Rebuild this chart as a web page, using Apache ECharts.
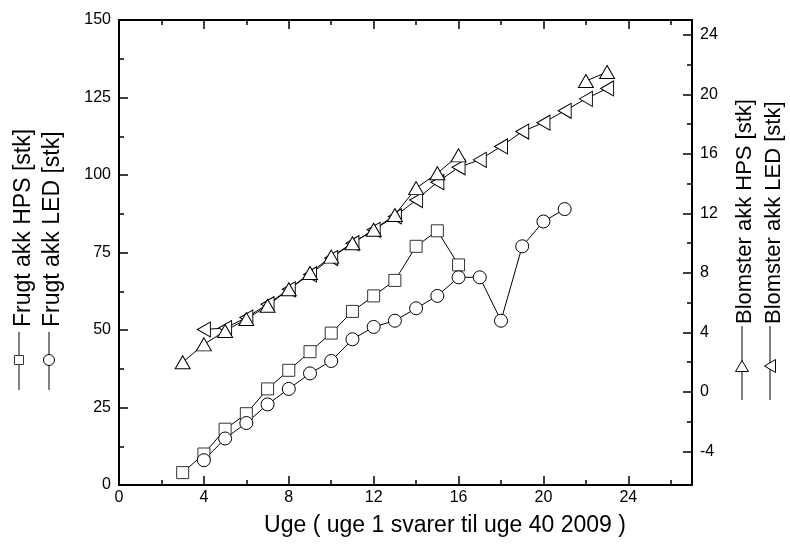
<!DOCTYPE html>
<html>
<head>
<meta charset="utf-8">
<script src="https://cdn.jsdelivr.net/npm/echarts@6/dist/echarts.min.js"></script>
<style>html,body{margin:0;padding:0;background:#fff}#c{width:790px;height:554px}</style>
</head>
<body>
<div id="c"></div>
<script>
// ---- data ----
const weeksFrugtHPS = [3,4,5,6,7,8,9,10,11,12,13,14,15,16];
const frugtHPS      = [4,10,18,23,31,37,43,49,56,61,66,77,82,71];
const weeksFrugtLED = [4,5,6,7,8,9,10,11,12,13,14,15,16,17,18,19,20,21];
const frugtLED      = [8,15,20,26,31,36,40,47,51,53,57,61,67,67,53,77,85,89];
const weeksBlomHPS  = [3,4,5,6,7,8,9,10,11,12,13,14,15,16,17,18,19,20,21,22,23];
const blomHPS       = [2.0,3.2,4.1,4.9,5.8,6.9,8.0,9.1,10.0,10.9,11.9,13.7,14.7,15.9,null,null,null,null,null,20.9,21.5];
const weeksBlomLED  = [4,5,6,7,8,9,10,11,12,13,14,15,16,17,18,19,20,21,22,23];
const blomLED       = [4.2,4.3,5.0,5.9,6.9,7.9,9.0,10.0,10.9,11.8,12.9,14.1,15.1,15.6,16.5,17.5,18.1,18.9,19.7,20.4];

const xMajor = [0,4,8,12,16,20,24];
const xMinor = [2,6,10,14,18,22,26];
const rMajor = [-4,0,4,8,12,16,20,24];
const rMinor = [-2,2,6,10,14,18,22];

const labelFrugtHPS = 'Frugt akk HPS [stk]';
const labelFrugtLED = 'Frugt akk LED [stk]';
const labelBlomHPS = 'Blomster akk HPS [stk]';
const labelBlomLED = 'Blomster akk LED [stk]';
const xTitle = 'Uge ( uge 1 svarer til uge 40 2009 )';

function pairs(xs, ys){ return xs.map((x,i)=>[x, ys[i]===null ? '-' : ys[i]]); }

const FONT = 'Liberation Sans, Arial, sans-serif';
const chart = echarts.init(document.getElementById('c'), null, {renderer:'canvas'});

const lineAx = {show:true, onZero:false, lineStyle:{color:'#000', width:2}};
const noLine = {show:false, onZero:false};
function xAx(pos, vals, len, labels, line){
  return {type:'value', min:0, max:27, position:pos, gridIndex:0,
    axisLine: line ? lineAx : noLine,
    axisTick:{show:true, inside:true, length:len, customValues:vals, lineStyle:{color:'#000', width:1.5}},
    axisLabel: labels ? {show:true, customValues:vals, color:'#000', fontSize:16, fontFamily:FONT, margin:5} : {show:false},
    splitLine:{show:false}};
}
function rAx(vals, len, labels, line){
  return {type:'value', min:-6.25, max:25, position:'right',
    axisLine: line ? lineAx : noLine,
    axisTick:{show:true, inside:true, length:len, customValues:vals, lineStyle:{color:'#000', width:1.5}},
    axisLabel: labels ? {show:true, customValues:vals, color:'#000', fontSize:16, fontFamily:FONT, margin:8} : {show:false},
    splitLine:{show:false}};
}

const mk = (name, data, yIdx, symbol, size, rot, border) => ({
  name, type:'line', xAxisIndex:0, yAxisIndex:yIdx, data, connectNulls:false,
  symbol, symbolSize:size, symbolRotate:rot, showSymbol:true,
  lineStyle:{color:'#000', width:1},
  itemStyle:{color:'#fff', borderColor:border, borderWidth:1},
  emphasis:{disabled:true}, animation:false
});

function legendGlyph(x, y1, y2, cy, shape){
  const els = [{type:'line', shape:{x1:x, y1:y1, x2:x, y2:y2}, style:{stroke:'#000', lineWidth:1}}];
  if (shape==='rect') els.push({type:'rect', shape:{x:x-4.5, y:cy-4.5, width:9, height:9}, style:{fill:'#fff', stroke:'#333', lineWidth:1}});
  if (shape==='circle') els.push({type:'circle', shape:{cx:x, cy:cy, r:5.5}, style:{fill:'#fff', stroke:'#000', lineWidth:1}});
  if (shape==='up') els.push({type:'polygon', shape:{points:[[x,cy-5.5],[x-6.5,cy+5.5],[x+6.5,cy+5.5]]}, style:{fill:'#fff', stroke:'#000', lineWidth:1}});
  if (shape==='left') els.push({type:'polygon', shape:{points:[[x-5.5,cy],[x+5.5,cy-6.5],[x+5.5,cy+6.5]]}, style:{fill:'#fff', stroke:'#000', lineWidth:1}});
  return els;
}
function vText(x, y, txt, size){
  return {type:'text', x:x, y:y, rotation:Math.PI/2,
    style:{text:txt, fill:'#000', font: size+'px '+FONT, textAlign:'left', textVerticalAlign:'middle'}};
}

chart.setOption({
  animation:false,
  backgroundColor:'#fff',
  grid:{left:119, top:20, width:573, height:465, containLabel:false},
  xAxis:[ xAx('bottom', xMajor, 9, true, true), xAx('bottom', xMinor, 5, false, false),
          xAx('top', xMajor, 9, false, true), xAx('top', xMinor, 5, false, false) ],
  yAxis:[
    {type:'value', min:0, max:150, interval:25, position:'left',
     axisLine:lineAx,
     axisTick:{show:true, inside:true, length:9, lineStyle:{color:'#000', width:1.5}},
     minorTick:{show:true, splitNumber:2, length:5, lineStyle:{color:'#000', width:1.5}},
     axisLabel:{color:'#000', fontSize:16, fontFamily:FONT, margin:8},
     splitLine:{show:false}},
    rAx(rMajor, 9, true, true),
    rAx(rMinor, 5, false, false)
  ],
  series:[
    mk(labelBlomLED, pairs(weeksBlomLED, blomLED), 1, 'triangle', [15,13], 90, '#000'),
    mk(labelBlomHPS, pairs(weeksBlomHPS, blomHPS), 1, 'triangle', [15,13], 0, '#000'),
    mk(labelFrugtHPS, pairs(weeksFrugtHPS, frugtHPS), 0, 'rect', 12, 0, '#333'),
    mk(labelFrugtLED, pairs(weeksFrugtLED, frugtLED), 0, 'circle', 13, 0, '#000')
  ],
  graphic:[
    ...legendGlyph(19, 332, 390, 360, 'rect'),
    ...legendGlyph(49, 332, 390, 360, 'circle'),
    vText(24, 327, labelFrugtHPS, 23),
    vText(53, 327, labelFrugtLED, 23),
    ...legendGlyph(742, 326, 400, 366, 'up'),
    ...legendGlyph(770, 326, 400, 366, 'left'),
    vText(745, 324, labelBlomHPS, 22),
    vText(774, 324, labelBlomLED, 22),
    {type:'text', x:445, y:526, style:{text:xTitle, fill:'#000', font:'23px '+FONT, textAlign:'center', textVerticalAlign:'middle'}}
  ]
});
</script>
</body>
</html>
